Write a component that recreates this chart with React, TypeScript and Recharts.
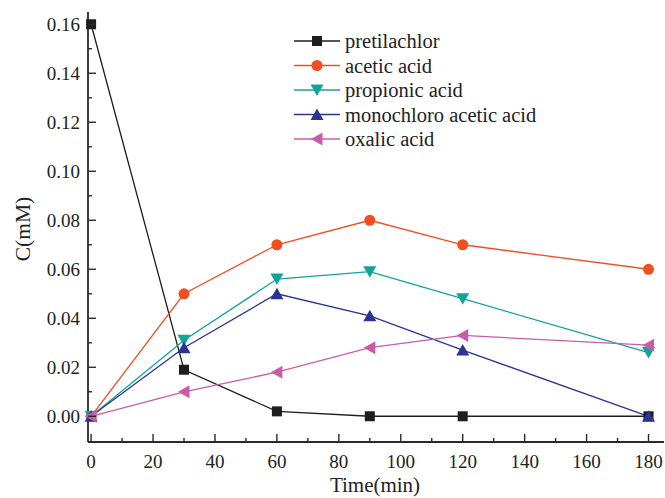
import { LineChart, Line, XAxis, YAxis, Legend, Label } from 'recharts';

// sampling times (min)
const times = [0, 30, 60, 90, 120, 180];

// concentrations (mM)
const pretilachlor = [0.16, 0.019, 0.002, 0.0, 0.0, 0.0];
const aceticAcid = [0.0, 0.05, 0.07, 0.08, 0.07, 0.06];
const propionicAcid = [0.0, 0.031, 0.056, 0.059, 0.048, 0.026];
const monochloroAcetic = [0.0, 0.028, 0.05, 0.041, 0.027, 0.0];
const oxalicAcid = [0.0, 0.01, 0.018, 0.028, 0.033, 0.029];

const xTicks = [0, 10, 20, 30, 40, 50, 60, 70, 80, 90, 100, 110, 120, 130, 140, 150, 160, 170, 180];
const yTicks = [0, 0.01, 0.02, 0.03, 0.04, 0.05, 0.06, 0.07, 0.08, 0.09, 0.1, 0.11, 0.12, 0.13, 0.14, 0.15, 0.16];

const data = times.map((t, i) => ({
  t,
  pretilachlor: pretilachlor[i],
  acetic: aceticAcid[i],
  propionic: propionicAcid[i],
  monochloro: monochloroAcetic[i],
  oxalic: oxalicAcid[i],
}));

const series = [
  { key: 'pretilachlor', name: 'pretilachlor', color: '#1e1e1e', shape: 'square' },
  { key: 'acetic', name: 'acetic acid', color: '#f04e23', shape: 'circle' },
  { key: 'propionic', name: 'propionic acid', color: '#12a39a', shape: 'down' },
  { key: 'monochloro', name: 'monochloro acetic acid', color: '#2d3393', shape: 'up' },
  { key: 'oxalic', name: 'oxalic acid', color: '#c95ca8', shape: 'left' },
];

const FONT = '"Liberation Serif", "Times New Roman", serif';
const AXIS = '#2a2a2a';

const Marker = ({ cx, cy, shape, color }: any) => {
  if (cx == null || cy == null) return null;
  switch (shape) {
    case 'square':
      return <rect x={cx - 5} y={cy - 5} width={10} height={10} fill={color} />;
    case 'circle':
      return <circle cx={cx} cy={cy} r={5.5} fill={color} />;
    case 'down':
      return <polygon points={`${cx - 6.5},${cy - 5.5} ${cx + 6.5},${cy - 5.5} ${cx},${cy + 6}`} fill={color} />;
    case 'up':
      return <polygon points={`${cx - 6.5},${cy + 5.5} ${cx + 6.5},${cy + 5.5} ${cx},${cy - 6}`} fill={color} />;
    default:
      return <polygon points={`${cx + 5.5},${cy - 6.5} ${cx + 5.5},${cy + 6.5} ${cx - 6},${cy}`} fill={color} />;
  }
};

const isMajorX = (v: number) => v % 20 === 0;
const isMajorY = (v: number) => Math.round(v * 100) % 2 === 0;

const BottomTick = ({ x, y, payload }: any) => {
  const v = payload.value;
  const major = isMajorX(v);
  return (
    <g>
      <line x1={x} x2={x} y1={y} y2={y - (major ? 8 : 4)} stroke={AXIS} strokeWidth={1.4} />
      {major && (
        <text x={x} y={y + 19} textAnchor="middle" dominantBaseline="central" fontFamily={FONT} fontSize={19} fill="#222">
          {v}
        </text>
      )}
    </g>
  );
};

const TopTick = ({ x, y }: any) => (
  <line x1={x} x2={x} y1={y} y2={y + 3} stroke={AXIS} strokeWidth={1} />
);

const LeftTick = ({ x, y, payload }: any) => {
  const v = payload.value;
  const major = isMajorY(v);
  return (
    <g>
      <line x1={x} x2={x + (major ? 8 : 4)} y1={y} y2={y} stroke={AXIS} strokeWidth={1.4} />
      {major && (
        <text x={x - 8} y={y} textAnchor="end" dominantBaseline="central" fontFamily={FONT} fontSize={19} fill="#222">
          {v.toFixed(2)}
        </text>
      )}
    </g>
  );
};

const RightTick = ({ x, y }: any) => (
  <line x1={x} x2={x - 3} y1={y} y2={y} stroke={AXIS} strokeWidth={1} />
);

const renderLegend = () => (
  <svg width={260} height={130}>
    {series.map((s, i) => {
      const cy = 12 + i * 24.5;
      return (
        <g key={s.key}>
          <line x1={4} x2={50} y1={cy} y2={cy} stroke={s.color} strokeWidth={1.4} />
          <Marker cx={27} cy={cy} shape={s.shape} color={s.color} />
          <text x={55} y={cy} dominantBaseline="central" fontFamily={FONT} fontSize={20.5} fill="#222">
            {s.name}
          </text>
        </g>
      );
    })}
  </svg>
);

export default function App() {
  return (
    <div style={{ position: 'absolute', left: 0, top: 0, background: '#fff' }}>
      <LineChart width={665} height={498} data={data} margin={{ top: 12, right: 1, bottom: 0, left: 8 }}>
        <XAxis
          dataKey="t"
          type="number"
          domain={[-1, 185]}
          ticks={xTicks}
          interval={0}
          height={56}
          tickSize={0}
          tickMargin={0}
          tick={<BottomTick />}
          axisLine={{ stroke: AXIS, strokeWidth: 1.8 }}
          tickLine={false}
        >
          <Label
            content={({ viewBox }: any) => (
              <text
                x={viewBox.x + viewBox.width / 2 - 1}
                y={viewBox.y + 43}
                textAnchor="middle"
                dominantBaseline="central"
                fontFamily={FONT}
                fontSize={21}
                fill="#222"
              >
                Time(min)
              </text>
            )}
          />
        </XAxis>
        <XAxis
          xAxisId="top"
          dataKey="t"
          type="number"
          orientation="top"
          domain={[-1, 185]}
          ticks={xTicks}
          interval={0}
          height={0}
          tickSize={0}
          tickMargin={0}
          tick={<TopTick />}
          axisLine={{ stroke: AXIS, strokeWidth: 1.8 }}
          tickLine={false}
        />
        <YAxis
          type="number"
          domain={[-0.0105, 0.165]}
          ticks={yTicks}
          interval={0}
          width={80}
          tickSize={0}
          tickMargin={0}
          tick={<LeftTick />}
          axisLine={{ stroke: AXIS, strokeWidth: 1.8 }}
          tickLine={false}
          allowDataOverflow
        >
          <Label
            content={({ viewBox }: any) => {
              const cx = viewBox.x + 15;
              const cy = 229;
              return (
                <text
                  x={cx}
                  y={cy}
                  transform={`rotate(-90 ${cx} ${cy})`}
                  textAnchor="middle"
                  dominantBaseline="central"
                  fontFamily={FONT}
                  fontSize={21.5}
                  fill="#222"
                >
                  C(mM)
                </text>
              );
            }}
          />
        </YAxis>
        <YAxis
          yAxisId="right"
          type="number"
          orientation="right"
          domain={[-0.0105, 0.165]}
          ticks={yTicks}
          interval={0}
          width={0}
          tickSize={0}
          tickMargin={0}
          tick={<RightTick />}
          axisLine={{ stroke: AXIS, strokeWidth: 1.8 }}
          tickLine={false}
          allowDataOverflow
        />
        <Legend
          layout="horizontal"
          verticalAlign="middle"
          align="center"
          content={renderLegend}
          wrapperStyle={{ position: 'absolute', left: 290, top: 29, width: 260, height: 130 }}
        />
        {series.map((s) => (
          <Line
            key={s.key}
            dataKey={s.key}
            name={s.name}
            type="linear"
            stroke={s.color}
            strokeWidth={1.3}
            isAnimationActive={false}
            dot={(p: any) => <Marker key={`${s.key}-${p.index}`} cx={p.cx} cy={p.cy} shape={s.shape} color={s.color} />}
            activeDot={false}
          />
        ))}
      </LineChart>
    </div>
  );
}
